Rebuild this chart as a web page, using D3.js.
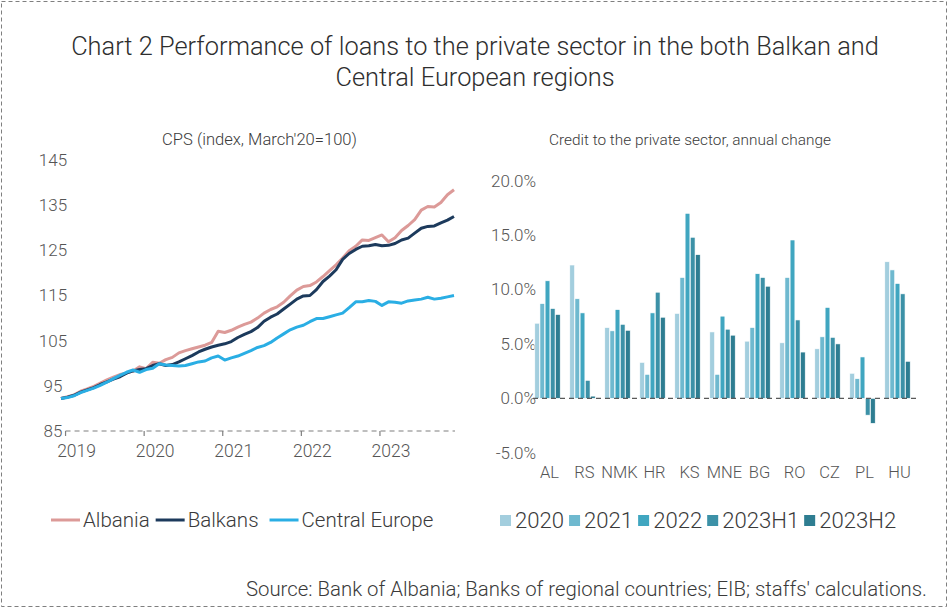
<!DOCTYPE html>
<html><head><meta charset="utf-8">
<script src="https://cdn.jsdelivr.net/npm/d3@7"></script>
<style>
body{margin:0;background:#fff;}
svg{display:block;font-family:Roboto,Lato,"Open Sans",sans-serif;font-weight:300;}
</style></head>
<body><svg id="c" width="949" height="609"></svg>
<script>
// ---- Left chart data: CPS index (March'20=100), monthly Dec-2018 .. Dec-2023
const yearLabels = ["2019","2020","2021","2022","2023"];
const yearTickIndex = [1,13,25,37,49];
const albania = [92.2,92.6,93.0,93.8,94.3,94.9,95.6,96.3,96.9,97.5,97.8,98.3,99.2,98.8,100.2,100.0,100.8,101.3,102.3,102.8,103.2,103.6,104.0,104.6,107.1,106.8,107.3,108.0,108.6,109.1,110.0,111.1,111.9,112.5,113.5,114.9,116.2,117.0,117.2,118.0,119.2,120.5,121.8,123.3,124.9,125.9,127.3,127.2,127.8,128.4,126.9,127.8,129.4,130.5,131.8,133.9,134.7,134.6,135.6,137.3,138.4];
const balkans = [92.2,92.5,92.9,93.6,94.1,94.6,95.3,95.9,96.5,97.0,97.8,98.3,98.6,98.8,99.5,99.9,99.5,99.7,100.3,101.0,101.7,102.5,103.1,103.6,104.0,104.3,104.8,105.7,106.4,107.0,107.9,109.3,110.2,110.9,112.0,113.1,114.2,114.9,115.0,116.3,118.1,119.3,120.7,123.0,124.3,125.2,125.9,126.0,126.3,126.0,126.1,126.5,127.3,127.7,128.8,129.9,130.3,130.4,131.1,131.7,132.5];
const centralEurope = [92.2,92.4,92.8,93.5,94.0,94.5,95.1,95.8,96.6,97.3,98.0,98.5,98.0,98.6,98.9,99.9,99.6,99.5,99.4,99.5,99.9,100.3,100.5,101.2,101.6,100.7,101.2,101.6,102.2,102.8,103.5,103.9,104.6,105.6,106.5,107.4,108.0,108.4,109.2,109.9,109.9,110.3,110.7,111.1,112.3,113.6,113.6,113.9,113.7,112.8,113.6,113.5,113.3,113.8,114.0,114.2,114.6,114.2,114.4,114.7,115.0];
const lineSeriesNames = ["Albania","Balkans","Central Europe"];
const leftTicks = [85,95,105,115,125,135,145];

// ---- Right chart data: credit to private sector, annual change (%)
const countries = ["AL","RS","NMK","HR","KS","MNE","BG","RO","CZ","PL","HU"];
const periods = ["2020","2021","2022","2023H1","2023H2"];
const v2020   = [6.9,12.25,6.5,3.3,7.8,6.1,5.25,5.1,4.55,2.3,12.55];
const v2021   = [8.7,9.15,6.2,2.2,11.1,2.2,6.5,11.1,5.65,1.8,11.8];
const v2022   = [10.8,7.85,8.15,7.85,17.0,7.55,11.45,14.55,8.35,3.8,10.55];
const v2023H1 = [8.25,1.65,6.8,9.75,14.8,6.35,11.1,7.2,5.6,-1.55,9.6];
const v2023H2 = [7.7,0.2,6.25,7.45,13.2,5.8,10.3,4.25,5.0,-2.3,3.4];
const rightTicks = [-5,0,5,10,15,20];

const svg = d3.select("#c");
const txt = "#3a3a3a";
const axTxt = "#555";

// scale a text's font size so that it spans the wanted width
function fit(sel, w){
  const fs = parseFloat(sel.style("font-size"));
  const cur = sel.node().getComputedTextLength();
  sel.style("font-size", (fs*w/cur).toFixed(2)+"px");
  return sel;
}

// border
svg.append("rect").attr("x",1.5).attr("y",1.5).attr("width",945).attr("height",605)
  .attr("fill","none").attr("stroke","#7f7f7f").attr("stroke-dasharray","4,3");

// title
const t1 = svg.append("text").attr("x",475).attr("y",55).attr("text-anchor","middle").attr("fill","#2e2e2e")
  .style("font-size","25px").text("Chart 2 Performance of loans to the private sector in the both Balkan and");
fit(t1,808);
svg.append("text").attr("x",475).attr("y",86).attr("text-anchor","middle").attr("fill","#2e2e2e")
  .style("font-size",t1.style("font-size")).text("Central European regions");

// ---------- LEFT CHART ----------
const x = d3.scaleLinear().domain([0,60]).range([61,454]);
const y = d3.scaleLinear().domain([85,145]).range([431,160]);

fit(svg.append("text").attr("x",259.5).attr("y",145).attr("text-anchor","middle").attr("fill",txt)
  .style("font-size","14px").text("CPS (index, March'20=100)"),195);

svg.append("g").selectAll("text").data(leftTicks).join("text")
  .attr("x",53).attr("y",d=>y(d)).attr("dy","0.35em").attr("text-anchor","middle")
  .attr("fill",axTxt).style("font-size","17px").text(d=>d);

const gx = svg.append("g").attr("transform","translate(0,431)");
gx.append("line").attr("x1",x(yearTickIndex[0])-2).attr("x2",455).attr("stroke","#7f7f7f")
  .attr("stroke-width",1.2).attr("stroke-dasharray","5,4");
gx.selectAll("line.t").data(yearTickIndex).join("line").attr("class","t")
  .attr("x1",d=>x(d)-2).attr("x2",d=>x(d)-2).attr("y1",0).attr("y2",5).attr("stroke","#7f7f7f").attr("stroke-width",1.2);
gx.selectAll("text").data(yearTickIndex).join("text")
  .attr("x",d=>x(d)+9).attr("y",26).attr("text-anchor","middle").attr("fill",axTxt)
  .style("font-size","17.5px").text((d,i)=>yearLabels[i]);

const lineColors = ["#dc9a98","#1c3a5c","#2aaee4"];
const seriesData = [albania,balkans,centralEurope];
const line = d3.line().x((d,i)=>x(i)).y(d=>y(d));
[0,1,2].forEach(k=>{
  svg.append("path").datum(seriesData[k]).attr("d",line).attr("fill","none")
    .attr("stroke",lineColors[k]).attr("stroke-width",3).attr("stroke-linejoin","round");
});

// left legend
let lx = 51;
const ly = 520;
lineSeriesNames.forEach((n,k)=>{
  svg.append("line").attr("x1",lx).attr("x2",lx+29).attr("y1",ly).attr("y2",ly)
    .attr("stroke",lineColors[k]).attr("stroke-width",3);
  const t = svg.append("text").attr("x",lx+32).attr("y",ly).attr("dy","0.35em").attr("fill",txt)
    .style("font-size","20.5px").text(n);
  lx += 32 + t.node().getComputedTextLength() + (k===0?6:11);
});

// ---------- RIGHT CHART ----------
const yr = d3.scaleLinear().domain([-5,20]).range([452.7,180.7]);
const xb = d3.scaleBand().domain(countries).range([530,915]).paddingInner(0.25).paddingOuter(0.125);
const xs = d3.scaleBand().domain(periods).range([0,xb.bandwidth()]).padding(0.08);
const barColors = ["#a3cede","#6fb9cf","#40a6c0","#3c91a7","#2e7d91"];
const barVals = [v2020,v2021,v2022,v2023H1,v2023H2];

fit(svg.append("text").attr("x",690).attr("y",145).attr("text-anchor","middle").attr("fill",txt)
  .style("font-size","14px").text("Credit to the private sector, annual change"),282);

svg.selectAll("text.ry").data(rightTicks).join("text").attr("class","ry")
  .attr("x",536).attr("y",d=>yr(d)).attr("dy","0.35em").attr("text-anchor","end")
  .attr("fill",axTxt).style("font-size","17px").text(d=>d.toFixed(1)+"%");

const gb = svg.append("g");
countries.forEach((c,ci)=>{
  periods.forEach((p,pi)=>{
    const v = barVals[pi][ci];
    gb.append("rect").attr("x",xb(c)+xs(p)).attr("width",xs.bandwidth())
      .attr("y",yr(Math.max(0,v))).attr("height",Math.abs(yr(v)-yr(0)))
      .attr("fill",barColors[pi]).attr("stroke","#fff").attr("stroke-width",0.6);
  });
});
svg.append("line").attr("x1",533).attr("x2",916).attr("y1",yr(0)).attr("y2",yr(0))
  .attr("stroke","#595959").attr("stroke-width",1.3).attr("stroke-dasharray","5,4");

svg.selectAll("text.cx").data(countries).join("text").attr("class","cx")
  .attr("x",d=>xb(d)+xb.bandwidth()/2+2).attr("y",478).attr("text-anchor","middle")
  .attr("fill",axTxt).style("font-size","16.5px").text(d=>d);

// right legend
const probe = svg.append("text").style("font-size","21.5px").text(periods[4]);
fit(probe,77);
const legFs = probe.style("font-size");
probe.remove();
let rx = 500;
periods.forEach((p,k)=>{
  svg.append("rect").attr("x",rx).attr("y",515).attr("width",11).attr("height",11).attr("fill",barColors[k]);
  const t = svg.append("text").attr("x",rx+15).attr("y",520).attr("dy","0.35em").attr("fill",txt)
    .style("font-size",legFs).text(p);
  rx += 15 + t.node().getComputedTextLength() + 5;
});

// footer
fit(svg.append("text").attr("x",927).attr("y",596).attr("text-anchor","end").attr("fill",txt)
  .style("font-size","18px").text("Source: Bank of Albania; Banks of regional countries; EIB; staffs' calculations."),681);
</script></body></html>
